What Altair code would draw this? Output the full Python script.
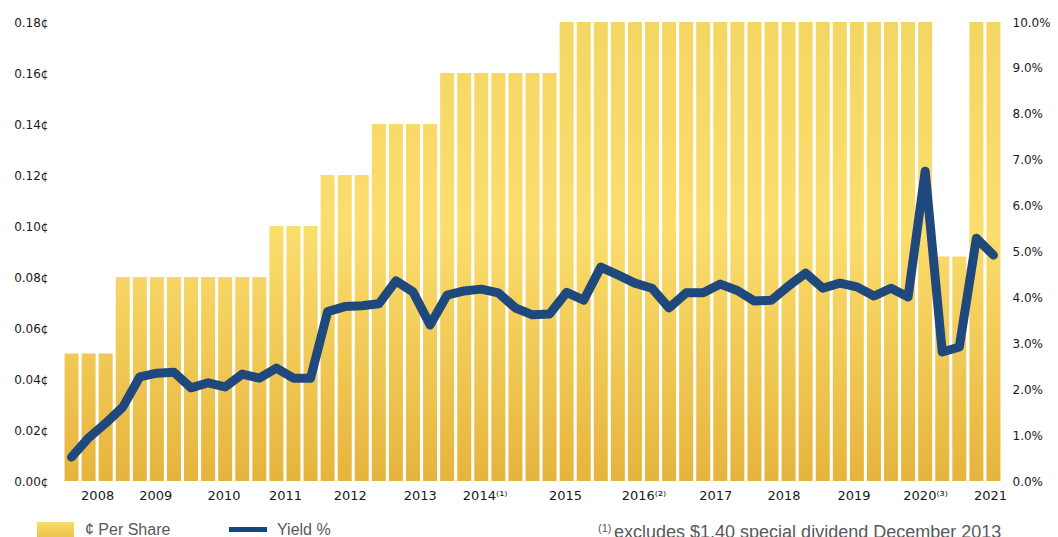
import altair as alt
import pandas as pd

# ---------------- data ----------------
per_share = [0.05, 0.05, 0.05,
             0.08, 0.08, 0.08, 0.08, 0.08, 0.08, 0.08, 0.08, 0.08,
             0.10, 0.10, 0.10,
             0.12, 0.12, 0.12,
             0.14, 0.14, 0.14, 0.14,
             0.16, 0.16, 0.16, 0.16, 0.16, 0.16, 0.16,
             0.18, 0.18, 0.18, 0.18, 0.18, 0.18, 0.18, 0.18, 0.18, 0.18, 0.18,
             0.18, 0.18, 0.18, 0.18, 0.18, 0.18, 0.18, 0.18, 0.18, 0.18, 0.18,
             0.088, 0.088,
             0.18, 0.18]

yield_pct = [0.52, 0.94, 1.26, 1.61, 2.27, 2.35, 2.37, 2.03, 2.14, 2.05,
             2.33, 2.24, 2.46, 2.24, 2.24, 3.69, 3.80, 3.82, 3.86, 4.36,
             4.12, 3.40, 4.05, 4.14, 4.18, 4.10, 3.77, 3.62, 3.64, 4.11,
             3.94, 4.66, 4.49, 4.31, 4.20, 3.77, 4.10, 4.10, 4.29, 4.15,
             3.92, 3.94, 4.25, 4.53, 4.20, 4.31, 4.23, 4.03, 4.20, 4.01,
             6.75, 2.81, 2.92, 5.29, 4.92]

year_labels = ["2008", "2009", "2010", "2011", "2012", "2013", "2014⁽¹⁾",
               "2015", "2016⁽²⁾", "2017", "2018", "2019", "2020⁽³⁾", "2021"]
year_pos = [1.5, 4.9, 8.9, 12.5, 16.3, 20.4, 24.2,
            28.9, 33.5, 37.7, 41.7, 45.8, 50.0, 53.8]

dps_ticks = [0.00, 0.02, 0.04, 0.06, 0.08, 0.10, 0.12, 0.14, 0.16, 0.18]
yield_ticks = [0, 1, 2, 3, 4, 5, 6, 7, 8, 9, 10]

legend_bar_label = "¢ Per Share"
legend_line_label = "Yield %"
footnote_mark = "(1)"
footnote_text = "excludes $1.40 special dividend December 2013"

df = pd.DataFrame({"idx": list(range(len(per_share))),
                   "dps": per_share,
                   "yld": yield_pct})

# ---------------- styling ----------------
DPS_MAX = 0.18
STOPS = [(0.0, (0xF4, 0xD6, 0x63)), (0.45, (0xFB, 0xDE, 0x6E)), (1.0, (0xE6, 0xB4, 0x3D))]


def color_at(f):
    for (s0, c0), (s1, c1) in zip(STOPS[:-1], STOPS[1:]):
        if s0 <= f <= s1:
            t = (f - s0) / (s1 - s0)
            return tuple(round(a + (b - a) * t) for a, b in zip(c0, c1))
    return STOPS[-1][1]


def hexc(c):
    return "#%02X%02X%02X" % c


def grad_for(v):
    f0 = 1 - v / DPS_MAX
    stops = [(0.0, color_at(f0))] + [((s - f0) / (1 - f0), c) for s, c in STOPS if s > f0 + 1e-9]
    return alt.Gradient(gradient="linear", x1=0, y1=0, x2=0, y2=1,
                        stops=[alt.GradientStop(offset=o, color=hexc(c)) for o, c in stops])


label_expr = ("[" + ",".join("'%s'" % l for l in year_labels) + "][indexof(["
              + ",".join(str(p) for p in year_pos) + "], datum.value)]")

xscale = alt.Scale(domain=[-0.5, len(per_share) - 0.5], nice=False, zero=False)
x_axis = alt.Axis(values=year_pos, labelExpr=label_expr, domain=False, ticks=False,
                  grid=False, labelFont="DejaVu Sans", labelFontSize=13,
                  labelColor="#1a1a1a", labelPadding=8, labelOverlap=False,
                  labelFlush=False, title=None)
left_axis = alt.Axis(values=dps_ticks, labelExpr="format(datum.value, '.2f') + '¢'",
                     domain=False, ticks=False, grid=False, labelFont="DejaVu Sans",
                     labelFontSize=12, labelColor="#1a1a1a", labelPadding=15, title=None)
right_axis = alt.Axis(values=yield_ticks, orient="right",
                      labelExpr="format(datum.value, '.1f') + '%'",
                      domain=False, ticks=False, grid=False, labelFont="DejaVu Sans",
                      labelFontSize=12, labelColor="#1a1a1a", labelPadding=10, title=None)

bar_layers = []
for v in sorted(set(per_share)):
    bar_layers.append(
        alt.Chart(df)
        .transform_filter(alt.FieldEqualPredicate(field="dps", equal=v))
        .transform_calculate(x0="datum.idx - 0.41", x1="datum.idx + 0.41", base="0")
        .mark_bar(fill=grad_for(v))
        .encode(x=alt.X("x0:Q", scale=xscale, axis=x_axis),
                x2="x1:Q",
                y=alt.Y("dps:Q", scale=alt.Scale(domain=[0, DPS_MAX], nice=False), axis=left_axis),
                y2="base:Q")
    )
bars = alt.layer(*bar_layers)

line = (alt.Chart(df)
        .mark_line(color="#1F487C", strokeWidth=9, strokeCap="round", strokeJoin="round")
        .encode(x=alt.X("idx:Q", scale=xscale, axis=x_axis),
                y=alt.Y("yld:Q", scale=alt.Scale(domain=[0, 10], nice=False), axis=right_axis)))

one = pd.DataFrame({"k": [0]})
legend_grad = alt.Gradient(gradient="linear", x1=0, y1=0, x2=0, y2=1,
                           stops=[alt.GradientStop(offset=0, color="#F9DC6C"),
                                  alt.GradientStop(offset=1, color="#E6B43D")])
leg_rect = alt.Chart(one).mark_rect(fill=legend_grad).encode(
    x=alt.value(-26), x2=alt.value(11), y=alt.value(500), y2=alt.value(524))
leg_rule = alt.Chart(one).mark_rule(color="#114A7A", strokeWidth=5).encode(
    x=alt.value(166), x2=alt.value(204), y=alt.value(507.5))
leg_t1 = alt.Chart(one).mark_text(text=legend_bar_label, align="left", baseline="alphabetic",
                                  font="Liberation Sans", fontSize=16, color="#595959").encode(
    x=alt.value(22), y=alt.value(513))
leg_t2 = alt.Chart(one).mark_text(text=legend_line_label, align="left", baseline="alphabetic",
                                  font="Liberation Sans", fontSize=16, color="#595959").encode(
    x=alt.value(214), y=alt.value(513))
foot_m = alt.Chart(one).mark_text(text=footnote_mark, align="left", baseline="alphabetic",
                                  font="Liberation Sans", fontSize=11, color="#595959").encode(
    x=alt.value(535), y=alt.value(510))
foot_t = alt.Chart(one).mark_text(text=footnote_text, align="left", baseline="alphabetic",
                                  font="Liberation Sans", fontSize=18, color="#595959").encode(
    x=alt.value(551), y=alt.value(516))

chart = (alt.layer(bars, line, leg_rect, leg_rule, leg_t1, leg_t2, foot_m, foot_t)
         .resolve_scale(y="independent")
         .properties(width=939, height=459,
                     autosize=alt.AutoSizeParams(type="none"),
                     padding={"left": 55, "top": 14, "right": 48, "bottom": 56},
                     background="white")
         .configure_view(strokeWidth=0))

chart.save("out.html", embed_options={"renderer": "svg", "actions": False})
